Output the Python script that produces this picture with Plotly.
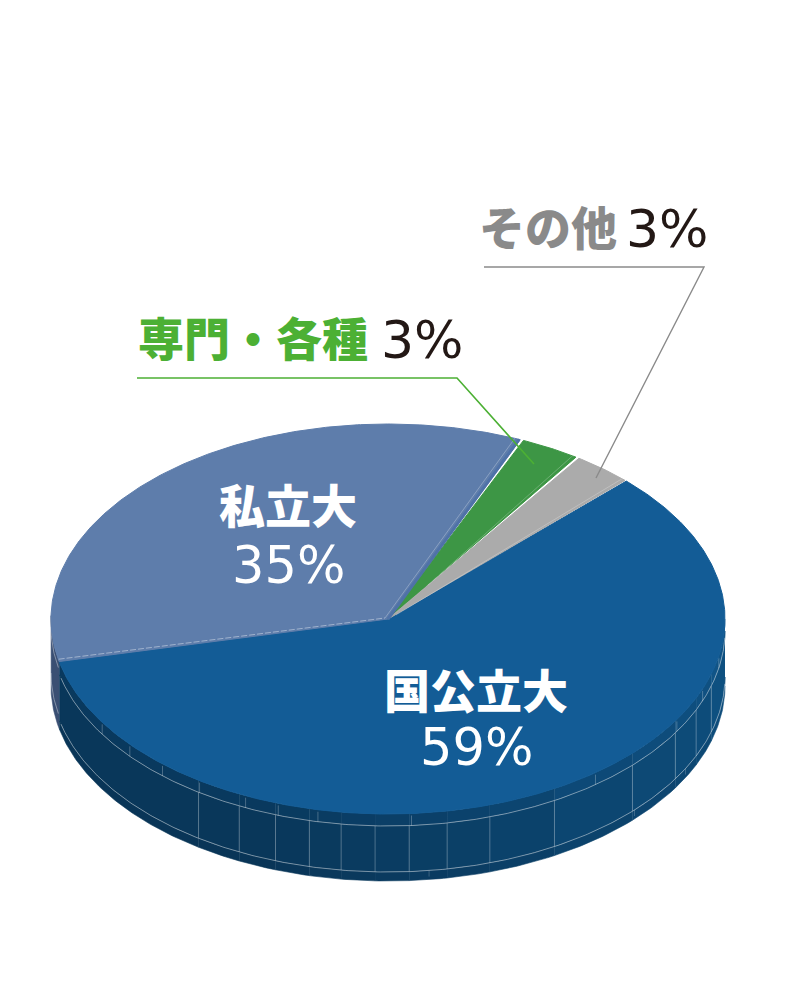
import numpy as np
import plotly.graph_objects as go

# ── Data ───────────────────────────────────────────────
categories = ['国公立大', '私立大', '専門・各種', 'その他']
values = [59, 35, 3, 3]

# ── Style / layout ─────────────────────────────────────
BLUE = '#135C96'
SLATE = '#5E7DAB'
GREEN = '#3D9645'
GRAY = '#ABABAB'
LINE_GREEN = '#4CB034'
LINE_GRAY = '#8A8A8A'
TEXT_DARK = '#231815'
JP = '"Noto Sans CJK JP", "Noto Sans"'
NUM = 'DejaVu Sans'

CX, CY = 388, 619
RX, RY = 337, 195
DEPTH = 67
START = 45
GAP = [0, 0.3, 0.3, 0.3]
COLORS = [BLUE, SLATE, GREEN, GRAY]

# facet edges of the pie wall, degrees clockwise from 12 o'clock
facet_edges = [90, 106.4, 113.9, 121.5, 133.5, 150.4, 162.4, 169.9, 176.4,
               182.2, 188, 193.5, 199.5, 206.2, 214.2, 257]
rim_ticks = [101, 111, 121, 142, 176, 192, 199, 205, 214, 222, 230, 238]
low_ticks = [118, 133, 173]


def pt(a, off=0):
    t = np.radians(a)
    return CX + RX * np.sin(t), CY - RY * np.cos(t) + off


def arc(a0, a1, off=0, n=None):
    n = n or max(int(abs(a1 - a0)) * 2, 6)
    a = np.linspace(a0, a1, n)
    return pt(a, off)


def mix(c0, c1, f):
    rgb = [round(p + (q - p) * f) for p, q in zip(c0, c1)]
    return 'rgb(%d,%d,%d)' % tuple(rgb)


def band(fig, a0, a1, off0, off1, color):
    x0, y0 = arc(a0, a1, off0)
    x1, y1 = arc(a1, a0, off1)
    fig.add_trace(go.Scatter(
        x=np.r_[x0, x1], y=np.r_[y0, y1], mode='lines', fill='toself',
        fillcolor=color, line=dict(color=color, width=0.6), hoverinfo='skip'))


def thin(fig, x, y, color='rgba(255,255,255,0.55)', width=0.8, dash='solid'):
    fig.add_trace(go.Scatter(x=x, y=y, mode='lines', hoverinfo='skip',
                             line=dict(color=color, width=width, dash=dash)))


fig = go.Figure()

# ── Side wall ──────────────────────────────────────────
band(fig, 257, 271, 0, DEPTH, '#3A4F73')
for a0, a1 in zip(facet_edges[:-1], facet_edges[1:]):
    f = min((a0 - 90) / 110, 1)
    band(fig, a0, a1, 0, 12, mix((16, 84, 135), (9, 57, 94), f))
    band(fig, a0, a1, 12, 58, mix((14, 80, 128), (9, 55, 90), f))
    band(fig, a0, a1, 58, DEPTH, mix((14, 76, 122), (9, 53, 87), f))

# wall seams
for off in (12, 58):
    x, y = arc(92, 256, off)
    thin(fig, x, y)
    x, y = arc(258, 270, off - 4)
    thin(fig, x, y, width=0.7)
for a in facet_edges[1:-1]:
    x, y = pt(a, 12), pt(a, 58)
    thin(fig, [x[0], y[0]], [x[1], y[1]], color='rgba(255,255,255,0.32)')
for a in rim_ticks:
    x, y = pt(a, 2), pt(a, 12)
    thin(fig, [x[0], y[0]], [x[1], y[1]], color='rgba(255,255,255,0.32)')
for a in low_ticks:
    x, y = pt(a, 58), pt(a, 64)
    thin(fig, [x[0], y[0]], [x[1], y[1]], color='rgba(255,255,255,0.25)')

# ── Top face, one wedge per category ───────────────────
ang = START
for i, v in enumerate(values):
    sweep = v / sum(values) * 360
    a0, a1 = ang + GAP[i] * (i > 1), ang + sweep - GAP[i]
    x, y = arc(a0, a1)
    fig.add_trace(go.Scatter(
        x=np.r_[CX, x, CX], y=np.r_[CY, y, CY],
        mode='lines', fill='toself', fillcolor=COLORS[i], name=categories[i],
        line=dict(color=COLORS[i], width=1), hoverinfo='skip'))
    ang += sweep

# faint inner edge lines on the small wedges and the private slice
a_priv0 = START + values[0] / 100 * 360
a_priv1 = a_priv0 + values[1] / 100 * 360
a_green1 = a_priv1 + values[2] / 100 * 360
a_gray1 = a_green1 + values[3] / 100 * 360
p = pt(a_priv0 + 0.4)
thin(fig, [p[0], CX - 3], [p[1] - 1, CY - 1], color='rgba(255,255,255,0.5)', dash='6px,2px')
p = pt(a_priv1 - 0.5)
thin(fig, [p[0], CX], [p[1], CY], color='#4F72A8', width=3)
p = pt(a_priv1 - 1.3)
thin(fig, [p[0], CX - 3], [p[1], CY - 1], color='rgba(255,255,255,0.35)')
p = pt(a_green1 - 1.0)
thin(fig, [p[0], CX + 40], [p[1], CY - 34], color='rgba(255,255,255,0.3)')
p = pt(a_gray1 - 1.0)
thin(fig, [p[0], CX + 8], [p[1], CY - 4], color='rgba(255,255,255,0.3)')

# ── Labels ─────────────────────────────────────────────
def label(x, y, text, size, color, family, anchor='center', heavy=False):
    font = dict(size=size, color=color, family=family)
    if heavy:
        font['weight'] = 900
    fig.add_annotation(x=x, y=y, xref='x', yref='y', text=text, showarrow=False,
                       xanchor=anchor, yanchor='middle', font=font)


def pct(i):
    return '%d%%' % values[i]


label(476, 688, categories[0], 46, 'white', JP, heavy=True)
label(476, 747, pct(0), 51, 'white', NUM)
label(288, 503, categories[1], 46, 'white', JP, heavy=True)
label(288, 565, pct(1), 51, 'white', NUM)
label(136, 336, categories[2], 46, LINE_GREEN, JP, 'left', True)
label(379, 340, pct(2), 52, TEXT_DARK, NUM, 'left')
label(477, 225, categories[3], 46, LINE_GRAY, JP, 'left', True)
label(624, 229, pct(3), 52, TEXT_DARK, NUM, 'left')

# ── Leader lines ───────────────────────────────────────
shapes = [
    dict(type='path', path='M137,378 L457,378 L534,464', xref='x', yref='y',
         line=dict(color=LINE_GREEN, width=1.6)),
    dict(type='path', path='M484,267 L704,267 L596,478', xref='x', yref='y',
         line=dict(color=LINE_GRAY, width=1.4)),
]

fig.update_layout(
    width=800, height=1000, margin=dict(l=0, r=0, t=0, b=0),
    paper_bgcolor='white', plot_bgcolor='white', showlegend=False,
    xaxis=dict(range=[0, 800], visible=False, fixedrange=True),
    yaxis=dict(range=[1000, 0], visible=False, fixedrange=True),
    shapes=shapes,
)

fig.write_html("out.html", config=dict(displayModeBar=False),
               post_script="document.body.style.margin='0';")
